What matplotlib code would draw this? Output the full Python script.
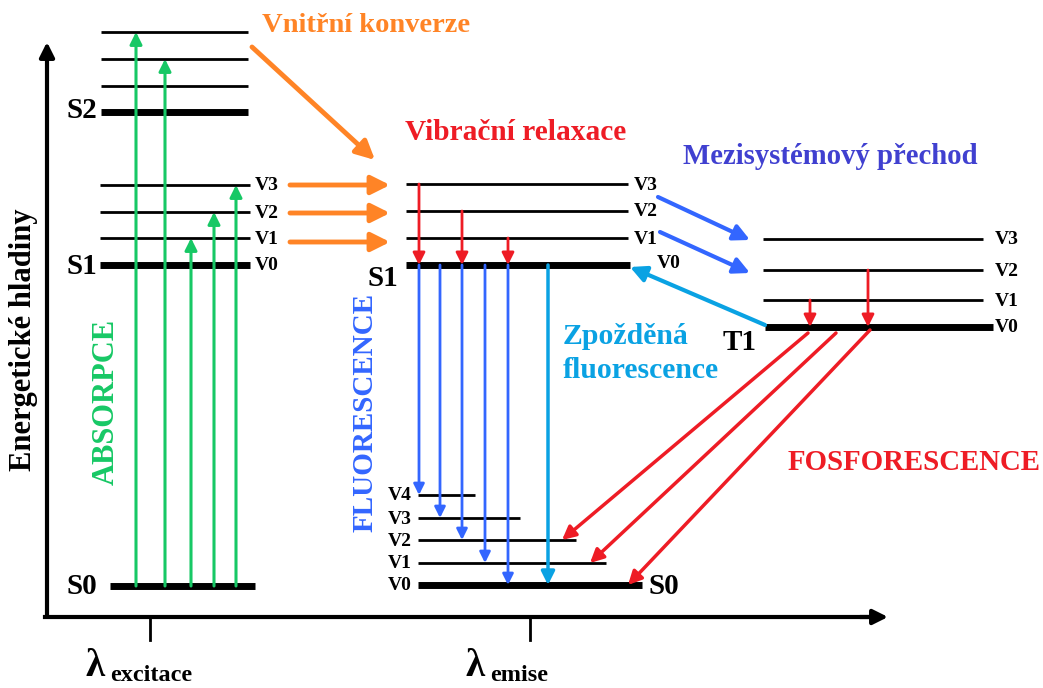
import matplotlib
matplotlib.use('Agg')
import matplotlib.pyplot as plt

GREEN = '#17c865'
ORANGE = '#ff8426'
RED = '#ee1c25'
BLUE = '#3366ff'
LBLUE = '#0aa2e3'
ISC = '#4040d0'
BLACK = 'black'

plt.rcParams['font.family'] = ['Liberation Serif', 'DejaVu Serif']
plt.rcParams['font.weight'] = 'bold'

# --- level data (pixel y of each level) ---
s2_levels = [112, 86, 59, 32]
s1_left_levels = [265, 238, 212, 185]
s1_mid_levels = [265, 238, 211, 184]
t1_levels = [327, 300, 270, 239]
s0_mid_levels = [585, 563, 540, 518, 495]
s0_mid_right = [642, 606, 576, 520, 475]
v_names = ['V0', 'V1', 'V2', 'V3', 'V4']

# absorption arrows: x, top level
abs_x = [136, 165, 191, 214, 236]
abs_top = [32, 59, 238, 212, 185]

# vibrational relaxation in S1 (x, from level)
vr_s1_x = [419, 462, 508]
vr_s1_from = [184, 211, 238]
# vibrational relaxation in T1
vr_t1_x = [810, 868]
vr_t1_from = [300, 270]

# fluorescence arrows: x, end level
fl_x = [419, 440, 462, 485, 508]
fl_end = [495, 518, 540, 563, 585]
delayed_x = 548

# internal conversion horizontal arrows
ic_y = [185, 213, 242]

# ISC arrows (start, end)
isc_start = [(658, 197), (660, 232)]
isc_end = [(750, 240), (750, 273)]

# phosphorescence arrows
ph_start = [(808, 333), (836, 333), (870, 330)]
ph_end = [(562, 540), (590, 563), (628, 585)]

fig = plt.figure(figsize=(10.43, 6.88), dpi=100)
ax = fig.add_axes([0, 0, 1, 1])
ax.set_xlim(0, 1043)
ax.set_ylim(688, 0)
ax.axis('off')


def arrow(x0, y0, x1, y1, color, lw=2, ms=18):
    ax.annotate('', xy=(x1, y1), xytext=(x0, y0),
                arrowprops=dict(arrowstyle='-|>', color=color, lw=lw,
                                mutation_scale=ms, shrinkA=0, shrinkB=0))


def hline(y, x0, x1, lw=2):
    ax.plot([x0, x1], [y, y], color=BLACK, lw=lw, solid_capstyle='butt')


# axes
arrow(47, 617, 47, 42, BLACK, lw=3, ms=22)
ax.plot([45, 870], [617, 617], color=BLACK, lw=3)
arrow(860, 617, 888, 617, BLACK, lw=3, ms=22)
ax.plot([150, 150], [617, 640], color=BLACK, lw=2)
ax.plot([530, 530], [617, 640], color=BLACK, lw=2)
ax.text(86, 676, 'λ', fontsize=28, ha='left', va='baseline')
ax.text(110, 681, 'excitace', fontsize=17.5, ha='left', va='baseline')
ax.text(466, 676, 'λ', fontsize=28, ha='left', va='baseline')
ax.text(490, 681, 'emise', fontsize=17.5, ha='left', va='baseline')

# left levels
hline(586, 110, 255, lw=5)
for i, y in enumerate(s1_left_levels):
    hline(y, 100, 250, lw=5 if i == 0 else 2)
for i, y in enumerate(s2_levels):
    hline(y, 101, 248, lw=5 if i == 0 else 2)
ax.text(97, 586, 'S0', fontsize=21, ha='right', va='center')
ax.text(97, 266, 'S1', fontsize=21, ha='right', va='center')
ax.text(97, 111, 'S2', fontsize=21, ha='right', va='center')
for i, y in enumerate(s1_left_levels):
    ax.text(255, y + 1, v_names[i], fontsize=14, ha='left', va='center')

# absorption
for x, top in zip(abs_x, abs_top):
    arrow(x, 586, x, top, GREEN, lw=2.2, ms=18)

# middle S1
for i, y in enumerate(s1_mid_levels):
    hline(y, 406, 630 if i == 0 else 628, lw=5 if i == 0 else 2)
for i, y in enumerate(s1_mid_levels[1:], start=1):
    ax.text(634, y + 1, v_names[i], fontsize=14, ha='left', va='center')
ax.text(657, 263, 'V0', fontsize=14, ha='left', va='center')
ax.text(398, 279, 'S1', fontsize=21, ha='right', va='center')

for x, y in zip(vr_s1_x, vr_s1_from):
    arrow(x, y, x, 265, RED, lw=2, ms=18)

# fluorescence
for x, y in zip(fl_x, fl_end):
    arrow(x, 265, x, y, BLUE, lw=2, ms=16)
arrow(delayed_x, 265, delayed_x, 585, LBLUE, lw=2.5, ms=20)

# middle S0
for i, (y, xr) in enumerate(zip(s0_mid_levels, s0_mid_right)):
    hline(y, 418, xr, lw=5 if i == 0 else 2)
    ax.text(412, y + 1, v_names[i], fontsize=14, ha='right', va='center')
ax.text(648, 586, 'S0', fontsize=21, ha='left', va='center')

# T1
for i, y in enumerate(t1_levels):
    hline(y, 765 if i == 0 else 763, 993 if i == 0 else 983, lw=5 if i == 0 else 2)
    ax.text(995, y + 1, v_names[i], fontsize=14, ha='left', va='center')
ax.text(757, 342, 'T1', fontsize=21, ha='right', va='center')
for x, y in zip(vr_t1_x, vr_t1_from):
    arrow(x, y, x, 327, RED, lw=2, ms=18)

# internal conversion
arrow(252, 47, 375, 160, ORANGE, lw=3.5, ms=28)
for y in ic_y:
    arrow(290, y, 390, y, ORANGE, lw=3.5, ms=28)

# ISC
for (x0, y0), (x1, y1) in zip(isc_start, isc_end):
    arrow(x0, y0, x1, y1, BLUE, lw=3, ms=24)
# delayed fluorescence back-transfer
arrow(765, 325, 630, 267, LBLUE, lw=3, ms=24)

# phosphorescence
for (x0, y0), (x1, y1) in zip(ph_start, ph_end):
    arrow(x0, y0, x1, y1, RED, lw=2.5, ms=20)

# labels
ax.text(262, 25, 'Vnitřní konverze', color=ORANGE, fontsize=20.5, ha='left', va='center')
ax.text(405, 133, 'Vibrační relaxace', color=RED, fontsize=21.2, ha='left', va='center')
ax.text(683, 157, 'Mezisystémový přechod', color=ISC, fontsize=20.7, ha='left', va='center')
ax.text(563, 337, 'Zpožděná', color=LBLUE, fontsize=21.4, ha='left', va='center')
ax.text(563, 370, 'fluorescence', color=LBLUE, fontsize=21.4, ha='left', va='center')
ax.text(788, 462, 'FOSFORESCENCE', color=RED, fontsize=20.8, ha='left', va='center')
ax.text(106, 402, 'ABSORPCE', color=GREEN, fontsize=22, rotation=90, ha='center', va='center')
ax.text(365, 412, 'FLUORESCENCE', color=BLUE, fontsize=21, rotation=90, ha='center', va='center')
ax.text(24, 340, 'Energetické hladiny', color=BLACK, fontsize=22, rotation=90,
        ha='center', va='center')

fig.savefig('out.png', dpi=100)
